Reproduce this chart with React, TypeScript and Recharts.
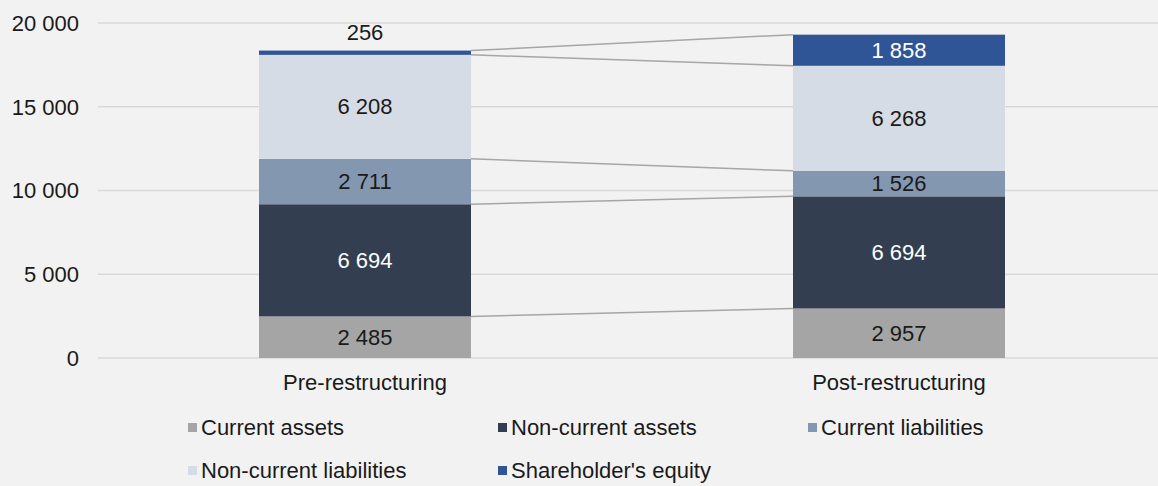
import React from "react";
import { BarChart, Bar, XAxis, YAxis, CartesianGrid, LabelList, Legend } from "recharts";

const categories = ["Pre-restructuring", "Post-restructuring"];
const currentAssets = [2485, 2957];
const nonCurrentAssets = [6694, 6694];
const currentLiabilities = [2711, 1526];
const nonCurrentLiabilities = [6208, 6268];
const equity = [256, 1858];
const yTicks = [0, 5000, 10000, 15000, 20000];

const series = [
  { key: "ca", name: "Current assets", values: currentAssets, color: "#a5a5a5", text: "#1a1a1a" },
  { key: "nca", name: "Non-current assets", values: nonCurrentAssets, color: "#333f50", text: "#ffffff" },
  { key: "cl", name: "Current liabilities", values: currentLiabilities, color: "#8497b0", text: "#1a1a1a" },
  { key: "ncl", name: "Non-current liabilities", values: nonCurrentLiabilities, color: "#d6dce5", text: "#1a1a1a" },
  { key: "eq", name: "Shareholder's equity", values: equity, color: "#2f5597", text: "#ffffff" },
];

const data = categories.map((name, i) => {
  const row: Record<string, any> = { name };
  series.forEach((s) => (row[s.key] = s.values[i]));
  return row;
});

// cumulative bottom of each segment per category
const lower = (si: number, ci: number) =>
  series.slice(0, si).reduce((acc, s) => acc + s.values[ci], 0);

const W = 1166;
const H = 486;
const Y_W = 98;
const BAND = (W - Y_W) / 2;
const FONT = "'Liberation Sans', Arial, sans-serif";

const fmt = (v: number) => String(v).replace(/\B(?=(\d{3})+(?!\d))/g, " ");

function makeShape(si: number) {
  return (props: any) => {
    const { x, y, width, height, index } = props;
    const s = series[si];
    const seg = s.values[index];
    const k = height / seg;
    const rect = <rect x={x} y={y} width={width} height={height} fill={s.color} />;
    if (index !== 0) return rect;
    const postTop = lower(si, 1) + s.values[1];
    const yPost = y + height - (postTop - lower(si, 0)) * k;
    return (
      <g>
        {rect}
        <line x1={x + width} y1={y} x2={x + BAND} y2={yPost} stroke="#a6a6a6" strokeWidth={1.5} />
      </g>
    );
  };
}

function makeLabel(si: number) {
  return (props: any) => {
    const { x, y, width, height, value, index } = props;
    const s = series[si];
    const small = height < 20;
    return (
      <text
        x={x + width / 2}
        y={small ? y - 18 : y + height / 2}
        textAnchor="middle"
        dominantBaseline="central"
        fontSize={22}
        fontFamily={FONT}
        fill={small ? "#1a1a1a" : s.text}
        key={`l-${si}-${index}`}
      >
        {fmt(value)}
      </text>
    );
  };
}

function LegendBox() {
  return (
    <div
      style={{
        display: "grid",
        gridTemplateColumns: "310px 310px 310px",
        gridAutoRows: "43px",
        paddingLeft: 188,
        paddingTop: 12,
        fontFamily: FONT,
        fontSize: 22,
        color: "#1a1a1a",
      }}
    >
      {series.map((s) => (
        <div key={s.key} style={{ display: "flex", alignItems: "center", whiteSpace: "nowrap" }}>
          <span style={{ width: 9, height: 9, background: s.color, marginRight: 4, display: "inline-block" }} />
          {s.name}
        </div>
      ))}
    </div>
  );
}

export default function App() {
  return (
    <>
      <style>{`body { margin: 0; background: #f2f2f2; }`}</style>
      <div style={{ width: 1158, height: H, overflow: "hidden", background: "#f2f2f2" }}>
        <BarChart width={W} height={H} data={data} margin={{ top: 23, right: 0, left: 0, bottom: 0 }} barSize={212}>
          <CartesianGrid vertical={false} stroke="#d9d9d9" strokeWidth={1.5} />
          <XAxis
            dataKey="name"
            axisLine={false}
            tickLine={false}
            height={36}
            tickMargin={10}
            tick={{ fontSize: 22, fontFamily: FONT, fill: "#1a1a1a" }}
          />
          <YAxis
            width={Y_W}
            domain={[0, 20000]}
            ticks={yTicks}
            axisLine={false}
            tickLine={false}
            tickMargin={13}
            tickFormatter={fmt}
            tick={{ fontSize: 22, fontFamily: FONT, fill: "#1a1a1a" }}
          />
          <Legend
            verticalAlign="bottom"
            height={92}
            content={() => <LegendBox />}
            wrapperStyle={{ left: 0, width: 1158, height: 92 }}
          />
          {series.map((s, si) => (
            <Bar
              key={s.key}
              dataKey={s.key}
              name={s.name}
              stackId="a"
              fill={s.color}
              isAnimationActive={false}
              shape={makeShape(si)}
            >
              <LabelList dataKey={s.key} content={makeLabel(si)} />
            </Bar>
          ))}
        </BarChart>
      </div>
    </>
  );
}
